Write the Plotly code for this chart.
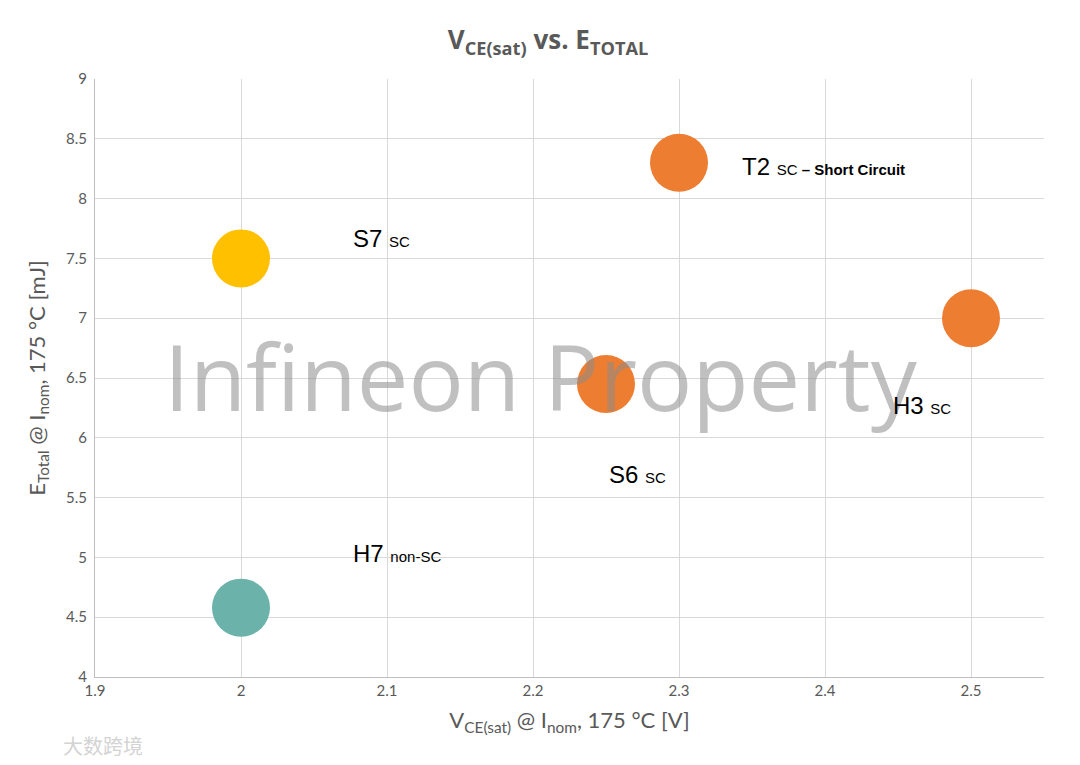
import plotly.graph_objects as go

names = ["S7", "H7", "T2", "S6", "H3"]
vce = [2.0, 2.0, 2.3, 2.25, 2.5]
etotal = [7.5, 4.58, 8.3, 6.45, 7.0]
colors = ["#FFC000", "#6AB2AA", "#ED7D31", "#ED7D31", "#ED7D31"]
label_text = ["S7 <span style='font-size:15px'>SC</span>",
              "H7 <span style='font-size:15px'>non-SC</span>",
              "T2 <span style='font-size:15px'>SC <b>– Short Circuit</b></span>",
              "S6 <span style='font-size:15px'>SC</span>",
              "H3 <span style='font-size:15px'>SC</span>"]
label_x = [2.075, 2.075, 2.342, 2.251, 2.445]
label_y = [7.67, 5.03, 8.27, 5.69, 6.27]

fig = go.Figure()
fig.add_trace(go.Scatter(
    x=vce, y=etotal, mode="markers",
    marker=dict(size=58, color=colors, line=dict(width=0)),
    showlegend=False, hoverinfo="x+y"))

# big watermark first (so labels draw on top)
fig.add_annotation(x=0.47, y=0.505, xref="paper", yref="paper", text="Infineon Property",
                   showarrow=False, font=dict(family="Open Sans, Lato, sans-serif", size=92,
                                              color="rgba(140,140,140,0.55)"))

for t, x, y in zip(label_text, label_x, label_y):
    fig.add_annotation(x=x, y=y, text=t, showarrow=False, xanchor="left", yanchor="middle",
                       font=dict(family="Liberation Sans, Arial", size=24, color="#000000"))

fig.add_annotation(x=-0.036, y=-0.114, xref="paper", yref="paper", text="大数跨境",
                   showarrow=False, xanchor="left", yanchor="middle",
                   font=dict(family="Noto Sans CJK SC", size=20, color="rgba(205,205,205,0.9)"))

fig.update_layout(
    width=1080, height=765,
    paper_bgcolor="white", plot_bgcolor="white",
    margin=dict(l=87, r=44, t=71, b=96),
    title=dict(text="<b>V<sub>CE(sat)</sub> vs. E<sub>TOTAL</sub></b>", x=0.5, xanchor="center",
               y=0.958, yanchor="middle",
               font=dict(family="Open Sans, Lato, sans-serif", size=26, color="#595959")),
    xaxis=dict(range=[1.9, 2.55], dtick=0.1, tick0=1.9, showgrid=True, gridcolor="#D9D9D9",
               gridwidth=1, zeroline=False, showline=True, linecolor="#BFBFBF",
               tickfont=dict(family="Lato, sans-serif", size=15, color="#595959"),
               title=dict(text="V<sub>CE(sat)</sub> @ I<sub>nom</sub>, 175 °C [V]",
                          font=dict(family="Lato, sans-serif", size=22, color="#595959"),
                          standoff=14),
               ticks="", fixedrange=True, automargin=False),
    yaxis=dict(range=[4, 9], dtick=0.5, showgrid=True, gridcolor="#D9D9D9", gridwidth=1,
               zeroline=False, showline=True, linecolor="#BFBFBF",
               tickfont=dict(family="Lato, sans-serif", size=15, color="#595959"),
               title=dict(text="E<sub>Total</sub> @ I<sub>nom</sub>, 175 °C [mJ]",
                          font=dict(family="Lato, sans-serif", size=22, color="#595959"),
                          standoff=14),
               ticks="", ticklabelstandoff=4, fixedrange=True, automargin=False),
)

fig.write_html("out.html")
